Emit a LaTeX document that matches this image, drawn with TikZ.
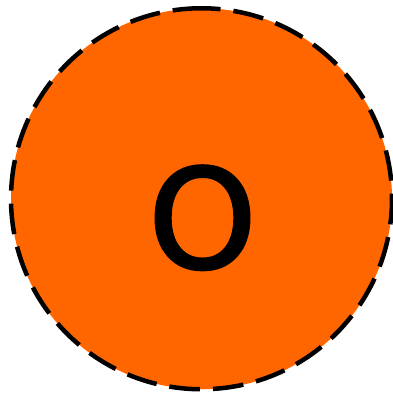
\documentclass[tikz,border=0pt]{standalone}
\usepackage{fontspec}
\setmainfont{DejaVu Sans}
\newfontfamily\labelfont[FakeBold=2]{DejaVu Sans}
\definecolor{orangefill}{HTML}{FF6600}
\begin{document}
\begin{tikzpicture}[x=1pt,y=1pt,
  circfill/.style={circle, fill=orangefill, minimum size=381pt, inner sep=0pt, outer sep=0pt},
  rim/.style={draw=black, line width=4.5pt, dash pattern=on 30.7pt off 13pt, dash phase=11.7pt},
  lbl/.style={inner sep=0pt, font=\labelfont\fontsize{138}{138}\selectfont, text=black}]
\useasboundingbox (0,0) rectangle (393,-397);
\node[circfill] (c) at (201.5,-198.75) {};
\draw[rim] (c.north) arc[start angle=90, delta angle=-360, radius=190.5pt];
\node[lbl, anchor=base] (t) at (202.5,-268) {O};
\end{tikzpicture}
\end{document}
